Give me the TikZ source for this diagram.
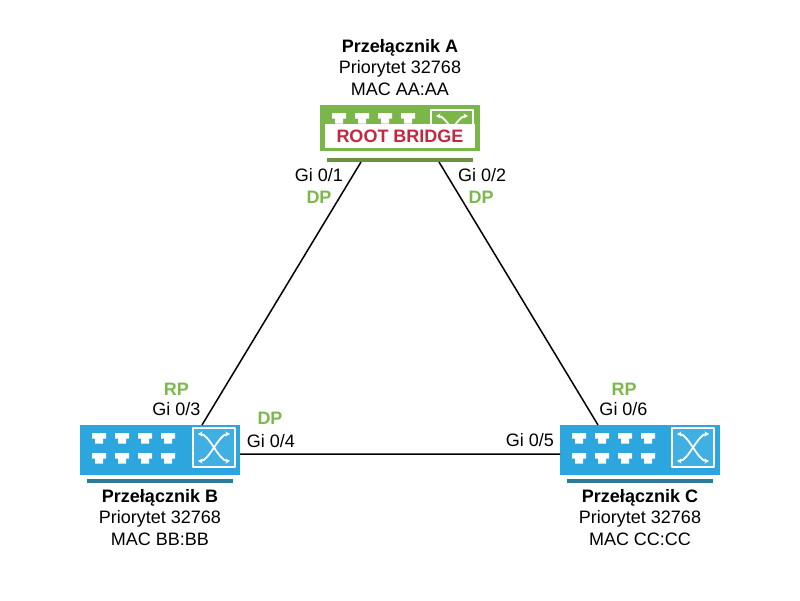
\documentclass[tikz,border=0pt]{standalone}
\usepackage{fontspec}
\setmainfont{Liberation Sans}
\usetikzlibrary{arrows.meta}
\definecolor{swblue}{HTML}{2BA6DE}
\definecolor{swbluex}{HTML}{40B0E3}
\definecolor{baseblue}{HTML}{2C7C99}
\definecolor{swgreen}{HTML}{7AB648}
\definecolor{basegreen}{HTML}{6C9140}
\definecolor{portgreen}{HTML}{7DB84C}
\definecolor{rootred}{HTML}{C4283E}
\tikzset{
  swbody/.style={inner sep=0pt, minimum width=160pt},
  port/.style={fill=white},
  xframe/.style={draw=white, line width=1.6pt},
  xarrow/.style={white, line width=1.8pt, {Stealth[length=4.5pt,width=5pt]}-{Stealth[length=4.5pt,width=5pt]}},
  baseline/.style={line width=3.5pt},
  link/.style={line width=1.5pt, black},
  lbl/.style={inner sep=0pt, anchor=base},
  state/.style={lbl, text=portgreen, font=\fontsize{18}{20}\selectfont\bfseries}
}
% one RJ45 socket, top left corner at (#1,#2)
\newcommand{\rjport}[2]{\fill[port] (#1,#2) rectangle ++(14,5.5) (#1+3,#2+5) rectangle ++(8,5.5);}
% switching symbol, top left corner at (#1,#2), fill #3
\newcommand{\xicon}[3]{%
  \draw[xframe, fill=#3] (#1,#2) rectangle ++(42,39);
  \draw[xarrow] (#1+5,#2+6) .. controls (#1+16,#2+6) and (#1+26,#2+33) .. (#1+37,#2+33);
  \draw[xarrow] (#1+5,#2+33) .. controls (#1+16,#2+33) and (#1+26,#2+6) .. (#1+37,#2+6);}
\begin{document}
\begin{tikzpicture}[x=1pt, y=-1pt, font=\fontsize{18}{20}\selectfont, line join=round]
	\useasboundingbox (0,0) rectangle (800,600);
	% switch A (root bridge)
	\node[swbody, fill=swgreen, minimum height=46pt] (swA) at (400,128) {};
	\foreach \i in {0,...,3} {\rjport{332+23*\i}{113}}
	\begin{scope}
		\clip (320,100) rectangle (480,124);
		\xicon{431}{110}{swgreen}
	\end{scope}
	\node[fill=white, inner sep=0pt, minimum width=150pt, minimum height=24pt, text=rootred, font=\fontsize{18}{20}\selectfont\bfseries] (rootA) at (400,136) {ROOT BRIDGE};
	\draw[baseline, basegreen] (327,160) -- (473,160);
	% switch B
	\node[swbody, fill=swblue, minimum height=50pt] (swB) at (160,450) {};
	\foreach \i in {0,...,3} {\rjport{92+23*\i}{433} \rjport{92+23*\i}{453}}
	\xicon{193}{428}{swbluex}
	\draw[baseline, baseblue] (87,481) -- (233,481);
	% switch C
	\node[swbody, fill=swblue, minimum height=50pt] (swC) at (640,450) {};
	\foreach \i in {0,...,3} {\rjport{572+23*\i}{433} \rjport{572+23*\i}{453}}
	\xicon{672}{428}{swbluex}
	\draw[baseline, baseblue] (567,481) -- (713,481);
	% links
	\coordinate (a1) at (361,162); \coordinate (a2) at (439,162);
	\coordinate (b3) at (202,425); \coordinate (c6) at (598,425);
	\coordinate (b4) at (240,454); \coordinate (c5) at (560,454);
	\draw[link] (a1) -- (b3) (a2) -- (c6) (b4) -- (c5);
	% switch descriptions
	\node[lbl, font=\fontsize{18}{20}\selectfont\bfseries] (nameA) at (400,52) {Przełącznik A};
	\node[lbl] (prioA) at (400,73.5) {Priorytet 32768};
	\node[lbl] (macA) at (400,95) {MAC AA:AA};
	\node[lbl, font=\fontsize{18}{20}\selectfont\bfseries] (nameB) at (160,502) {Przełącznik B};
	\node[lbl] (prioB) at (160,523.5) {Priorytet 32768};
	\node[lbl] (macB) at (160,545) {MAC BB:BB};
	\node[lbl, font=\fontsize{18}{20}\selectfont\bfseries] (nameC) at (640,502) {Przełącznik C};
	\node[lbl] (prioC) at (640,523.5) {Priorytet 32768};
	\node[lbl] (macC) at (640,545) {MAC CC:CC};
	% ports and their roles
	\node[lbl, anchor=base east] (gi1) at (343,181) {Gi 0/1};
	\node[state] (dp1) at (319,203) {DP};
	\node[lbl, anchor=base west] (gi2) at (458,181) {Gi 0/2};
	\node[state] (dp2) at (481,203) {DP};
	\node[state] (rp3) at (176.5,395) {RP};
	\node[lbl] (gi3) at (176.5,415) {Gi 0/3};
	\node[state] (dp4) at (270,424) {DP};
	\node[lbl] (gi4) at (271,447) {Gi 0/4};
	\node[lbl] (gi5) at (530,446) {Gi 0/5};
	\node[state] (rp6) at (624,395) {RP};
	\node[lbl] (gi6) at (623.5,415) {Gi 0/6};
\end{tikzpicture}
\end{document}
